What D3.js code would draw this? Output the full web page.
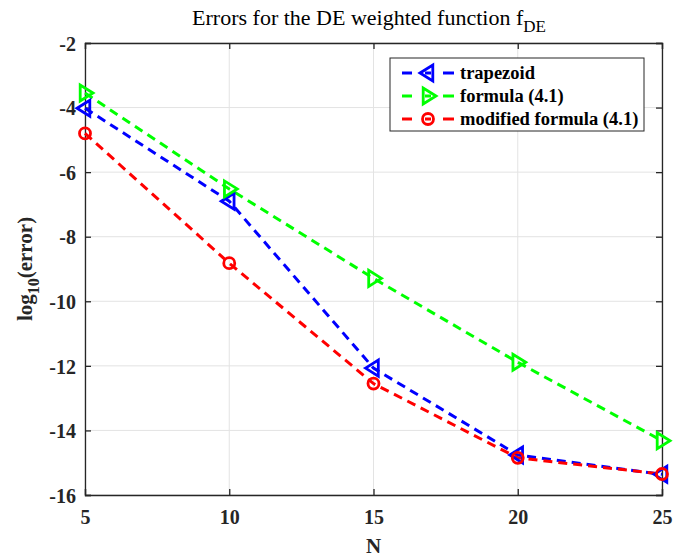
<!DOCTYPE html>
<html>
<head>
<meta charset="utf-8">
<script src="https://cdn.jsdelivr.net/npm/d3@7"></script>
<style>
body { margin: 0; background: #fff; }
text { font-family: "Liberation Serif", "DejaVu Serif", serif; }
</style>
</head>
<body>
<script>
var w = 673, h = 558;
const margin = {top: 43, right: 11, bottom: 63, left: 85};
const width = w - margin.left - margin.right,
    height = h - margin.top - margin.bottom;

// data
var Nvals = [5, 10, 15, 20, 25];
var trapezoid = [-4.02, -6.9, -12.07, -14.76, -15.36];
var formula41 = [-3.55, -6.52, -9.29, -11.89, -14.32];
var modified41 = [-4.8, -8.82, -12.55, -14.85, -15.35];
var yTicks = [-16, -14, -12, -10, -8, -6, -4, -2];
var xTicks = [5, 10, 15, 20, 25];

var series = [
    {name: "trapezoid", values: trapezoid, color: "#0000ff", marker: "left"},
    {name: "formula (4.1)", values: formula41, color: "#00ff00", marker: "right"},
    {name: "modified formula (4.1)", values: modified41, color: "#ff0000", marker: "circle"}
];

const svg = d3.select("body").append("svg")
    .attr("width", w)
    .attr("height", h);

const g = svg.append("g")
    .attr("transform", "translate(" + margin.left + "," + margin.top + ")");

var x = d3.scaleLinear().domain([5, 25]).range([0, width]);
var y = d3.scaleLinear().domain([-16, -2]).range([height, 0]);

// grid
g.selectAll(".vgrid").data(xTicks).enter().append("line")
    .attr("x1", d => x(d)).attr("x2", d => x(d))
    .attr("y1", 0).attr("y2", height)
    .style("stroke", "#e3e3e3").style("stroke-width", 1);
g.selectAll(".hgrid").data(yTicks).enter().append("line")
    .attr("x1", 0).attr("x2", width)
    .attr("y1", d => y(d)).attr("y2", d => y(d))
    .style("stroke", "#e3e3e3").style("stroke-width", 1);

// axes, ticks inside like matlab
var fmt = d => String(d);
var xAxis = g.append("g").attr("transform", "translate(0," + height + ")")
    .call(d3.axisBottom(x).tickValues(xTicks).tickSize(-6).tickPadding(15).tickFormat(fmt));
var yAxis = g.append("g")
    .call(d3.axisLeft(y).tickValues(yTicks).tickSize(-6).tickPadding(9).tickFormat(fmt));
var xTop = g.append("g")
    .call(d3.axisTop(x).tickValues(xTicks).tickSize(-6).tickFormat(""));
var yRight = g.append("g").attr("transform", "translate(" + width + ",0)")
    .call(d3.axisRight(y).tickValues(yTicks).tickSize(-6).tickFormat(""));

[xAxis, yAxis, xTop, yRight].forEach(function(a) {
    a.select(".domain").style("stroke", "#262626").style("stroke-width", 1.3);
    a.selectAll(".tick line").style("stroke", "#262626").style("stroke-width", 1.3);
    a.selectAll("text")
        .style("font-family", "'Liberation Serif', serif")
        .style("font-weight", "bold")
        .style("font-size", "20px")
        .style("fill", "#262626");
});
xAxis.selectAll(".tick text").attr("dy", "0.71em");
yAxis.selectAll(".tick text").attr("dy", "0.36em");

// lines
var line = d3.line()
    .x((d, i) => x(Nvals[i]))
    .y(d => y(d));

function drawMarker(sel, type, color, cx, cy) {
    var s = 8;
    if (type === "circle") {
        sel.append("circle").attr("cx", cx).attr("cy", cy).attr("r", 5.5)
            .style("fill", "none").style("stroke", color).style("stroke-width", 2.8);
    } else {
        var pts = type === "left"
            ? [[cx - s, cy], [cx + s * 0.6, cy - s], [cx + s * 0.6, cy + s]]
            : [[cx + s, cy], [cx - s * 0.6, cy - s], [cx - s * 0.6, cy + s]];
        sel.append("path").attr("d", "M" + pts.join("L") + "Z")
            .style("fill", "none").style("stroke", color).style("stroke-width", 2.8)
            .style("stroke-linejoin", "miter");
    }
}

series.forEach(function(s) {
    g.append("path")
        .datum(s.values)
        .attr("d", line)
        .style("fill", "none")
        .style("stroke", s.color)
        .style("stroke-width", 3)
        .style("stroke-dasharray", "9,6");
});
series.forEach(function(s) {
    var mg = g.append("g");
    s.values.forEach(function(v, i) {
        drawMarker(mg, s.marker, s.color, x(Nvals[i]), y(v));
    });
});

// legend
var lg = svg.append("g").attr("transform", "translate(390,58)");
lg.append("rect").attr("width", 254).attr("height", 73)
    .style("fill", "#fff").style("stroke", "#262626").style("stroke-width", 1);
series.forEach(function(s, i) {
    var ly = 15 + i * 23;
    [[12, 22], [35, 41], [53, 64]].forEach(function(seg) {
        lg.append("line").attr("x1", seg[0]).attr("x2", seg[1]).attr("y1", ly).attr("y2", ly)
            .style("stroke", s.color).style("stroke-width", 3);
    });
    drawMarker(lg, s.marker, s.color, 38, ly);
    lg.append("text").attr("x", 70).attr("y", ly + 6)
        .text(s.name)
        .style("font-weight", "bold").style("font-size", "18.5px").style("fill", "#000");
});

// title
var title = svg.append("text")
    .attr("x", 369).attr("y", 25)
    .attr("text-anchor", "middle")
    .style("font-size", "22px").style("fill", "#000");
title.append("tspan").text("Errors for the DE weighted function f");
title.append("tspan").attr("dy", 7).style("font-size", "17px").text("DE");

// axis labels
svg.append("text").attr("x", margin.left + width / 2).attr("y", 553)
    .attr("text-anchor", "middle")
    .style("font-weight", "bold").style("font-size", "21px").style("fill", "#262626")
    .text("N");

var yl = svg.append("text")
    .attr("transform", "translate(32," + (margin.top + height / 2) + ") rotate(-90)")
    .attr("text-anchor", "middle")
    .style("font-weight", "bold").style("font-size", "21px").style("fill", "#262626");
yl.append("tspan").text("log");
yl.append("tspan").attr("dy", 7).style("font-size", "16px").text("10");
yl.append("tspan").attr("dy", -7).text("(error)");
</script>
</body>
</html>
